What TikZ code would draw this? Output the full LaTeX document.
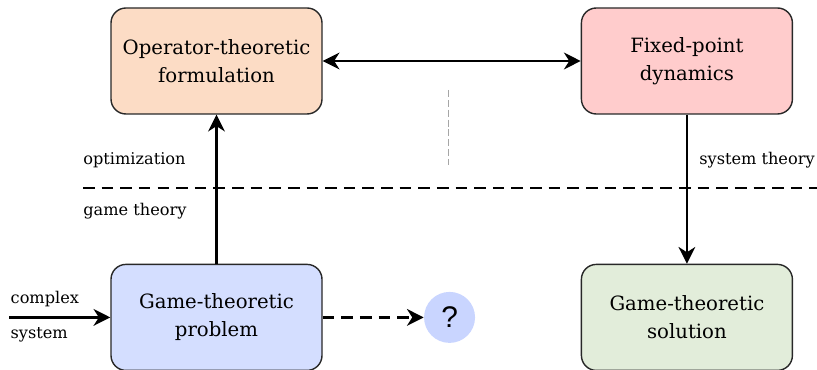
\documentclass[tikz,border=0pt]{standalone}
\usepackage{fontspec}
\setmainfont{DejaVu Serif}
\newfontfamily\qfont{Liberation Sans}
\usetikzlibrary{arrows.meta,positioning,calc}
\definecolor{opfill}{RGB}{252,220,197}
\definecolor{fpfill}{RGB}{255,204,204}
\definecolor{gpfill}{RGB}{212,222,255}
\definecolor{gsfill}{RGB}{226,237,218}
\definecolor{qfill}{RGB}{201,213,255}
\definecolor{edgegray}{RGB}{40,40,40}

\begin{document}
\begin{tikzpicture}[node distance=2.98cm,
    >={Stealth[length=9.5pt,width=9.5pt,inset=3pt]},
    block/.style={rectangle, draw=edgegray, line width=0.8pt, rounded corners=8.5pt, minimum width=4.22cm, minimum height=2.12cm, align=center, font=\fontsize{11.2}{16}\selectfont},
    flow/.style={->, line width=1.6pt},
    lbl/.style={inner sep=0pt, font=\fontsize{9.2}{11}\selectfont},
    sep/.style={line width=1.2pt, dash pattern=on 6.6pt off 4pt}]
    \useasboundingbox (0,0) rectangle (16.34,-7.4);
    \node [block, fill=opfill] (oper) at (4.33,-1.22) {Operator-theoretic\\formulation};
    \node [block, fill=fpfill, right=5.16cm of oper] (fixpt) {Fixed-point\\dynamics};
    \node [block, fill=gpfill, below=of oper] (gprob) {Game-theoretic\\problem};
    \node [block, fill=gsfill, below=of fixpt] (gsol) {Game-theoretic\\solution};
    \node [circle, fill=qfill, minimum size=1.02cm, inner sep=0pt, right=2.02cm of gprob, font=\qfont\fontsize{17}{18}\selectfont] (quest) {?};
    \coordinate [left=2.02cm of gprob] (input);
    % separator between the two fields
    \coordinate (sepL) at (1.66,-3.76);
    \coordinate (sepR) at (16.34,-3.76);
    \coordinate (midT) at (8.96,-1.8);
    \coordinate (midB) at (8.96,-3.3);
    \draw [sep] (sepL) -- (sepR);
    \draw [gray!70, line width=0.5pt, dash pattern=on 4pt off 1.6pt] (midT) -- (midB);
    \node [lbl, anchor=west] (optim) at ($(sepL)+(0,0.56)$) {optimization};
    \node [lbl, anchor=west] (gthy) at ($(sepL)+(0,-0.46)$) {game theory};
    \node [lbl, anchor=east] (systhy) at ($(sepR)+(-0.04,0.56)$) {system theory};
    % connectors
    \draw[<->, line width=1.6pt] (oper) -- (fixpt);
    \draw[flow] (gprob) -- (oper);
    \draw[flow] (fixpt) -- (gsol);
    \draw[flow, dash pattern=on 6.6pt off 4pt] (gprob) -- (quest);
    \draw[flow] (input) -- (gprob)
        node [lbl, pos=0, anchor=south west, yshift=5pt, xshift=0pt] (cplx) {complex}
        node [lbl, pos=0, anchor=north west, yshift=-5pt, xshift=0pt] (sysm) {system};
\end{tikzpicture}
\end{document}
